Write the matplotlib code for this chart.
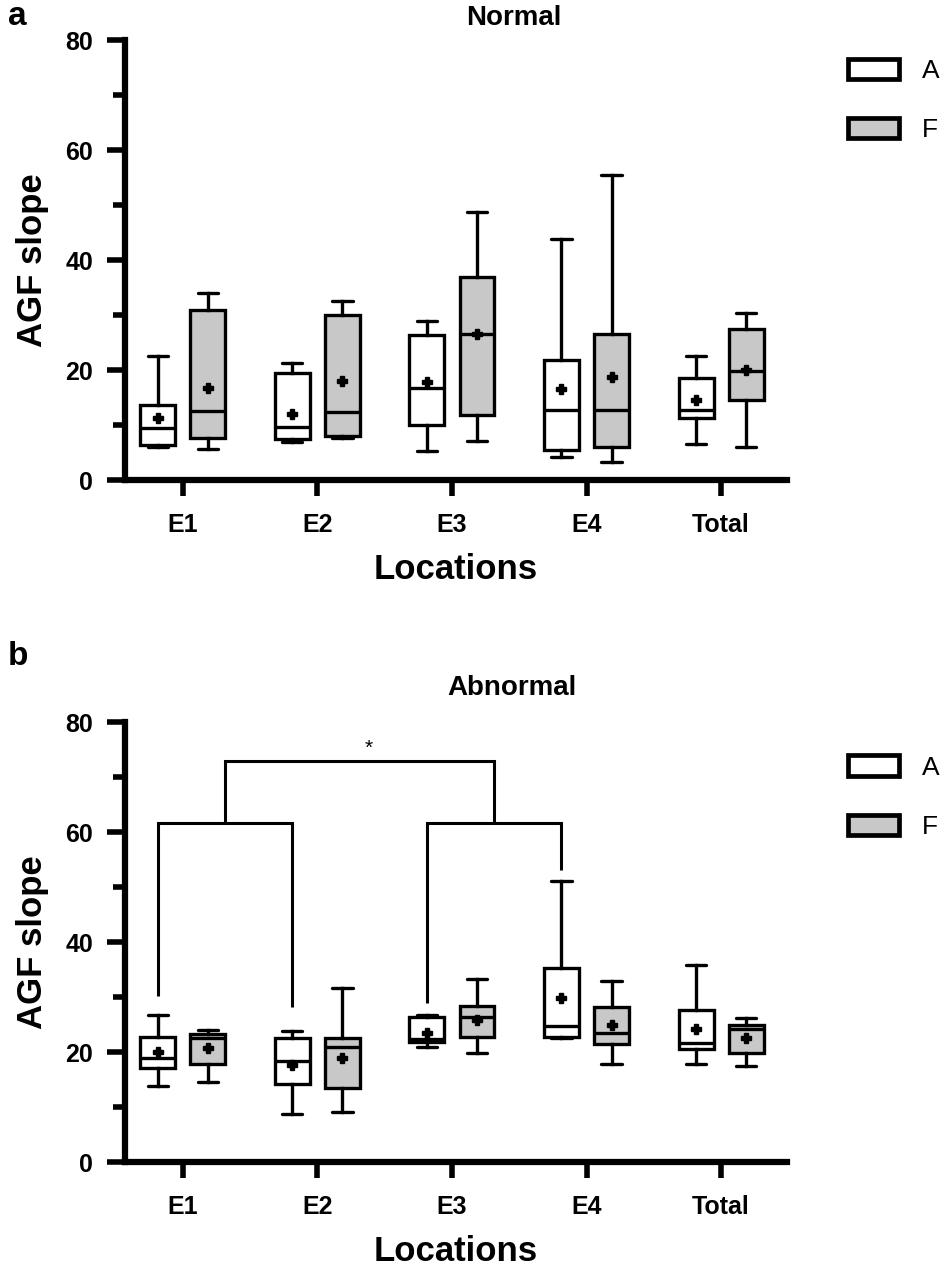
import matplotlib
matplotlib.use('Agg')
import matplotlib.pyplot as plt
from matplotlib.patches import Patch
from matplotlib.ticker import MultipleLocator
import numpy as np

plt.rcParams['font.family'] = ['Liberation Sans', 'DejaVu Sans']

# Data #########################################################################

cats = ['E1', 'E2', 'E3', 'E4', 'Total']

# panel a - Normal
a_A_whislo = [6.0, 6.9, 5.2, 4.2, 6.6]
a_A_q1 = [6.4, 7.4, 10.1, 5.4, 11.2]
a_A_med = [9.5, 9.7, 16.8, 12.7, 12.8]
a_A_q3 = [13.6, 19.4, 26.4, 21.8, 18.5]
a_A_whishi = [22.6, 21.3, 28.9, 43.8, 22.6]
a_A_mean = [11.2, 12.1, 17.9, 16.5, 14.5]

a_F_whislo = [5.6, 7.7, 7.1, 3.3, 6.1]
a_F_q1 = [7.7, 8.0, 11.8, 6.0, 14.5]
a_F_med = [12.5, 12.4, 26.6, 12.7, 19.8]
a_F_q3 = [31.0, 30.1, 36.9, 26.5, 27.5]
a_F_whishi = [34.1, 32.5, 48.8, 55.4, 30.4]
a_F_mean = [16.7, 18.0, 26.6, 18.8, 20.0]

# panel b - Abnormal
b_A_whislo = [13.8, 8.7, 21.0, 22.5, 17.8]
b_A_q1 = [17.1, 14.2, 21.8, 22.8, 20.5]
b_A_med = [18.9, 18.4, 22.3, 24.8, 21.6]
b_A_q3 = [22.8, 22.5, 26.4, 35.2, 27.6]
b_A_whishi = [26.8, 23.9, 26.7, 51.1, 35.8]
b_A_mean = [20.0, 17.7, 23.5, 29.8, 24.2]

b_F_whislo = [14.5, 9.1, 19.9, 17.8, 17.5]
b_F_q1 = [17.8, 13.5, 22.8, 21.4, 19.9]
b_F_med = [22.5, 21.0, 26.3, 23.5, 24.2]
b_F_q3 = [23.3, 22.5, 28.4, 28.2, 24.9]
b_F_whishi = [24.0, 31.6, 33.2, 32.9, 26.1]
b_F_mean = [20.7, 19.0, 25.9, 24.9, 22.5]

# significance bracket (panel b): E1/E2 vs E3/E4, A group
brk_low = 61.6
brk_top = 72.9
brk_ends = [30.1, 28.1, 29.0, 53.1]   # where each leg stops (E1, E2, E3, E4)

# Helpers ######################################################################

OFF = 0.186
BW = 0.26
LW = 2.4
GREY = '#c8c8c8'


def stats(whislo, q1, med, q3, whishi, mean):
    return [dict(whislo=w0, q1=a, med=m, q3=b, whishi=w1, mean=mu, fliers=[])
            for w0, a, m, b, w1, mu in zip(whislo, q1, med, q3, whishi, mean)]


def draw_group(ax, st, pos, face):
    ax.bxp(st, positions=pos, widths=BW, capwidths=0.15, patch_artist=True,
           showmeans=True, showfliers=False,
           boxprops=dict(facecolor=face, edgecolor='black', linewidth=LW),
           medianprops=dict(color='black', linewidth=LW),
           whiskerprops=dict(color='black', linewidth=LW),
           capprops=dict(color='black', linewidth=LW, solid_capstyle='round'),
           meanprops=dict(marker='P', markerfacecolor='black',
                          markeredgecolor='black', markersize=7))


def style_axes(ax, leg_y):
    x = np.arange(len(cats))
    ax.set_xlim(-0.43, 4.49)
    ax.set_ylim(0, 80)
    ax.set_xticks(x)
    ax.set_xticklabels(cats, fontsize=18, fontweight='bold')
    ax.yaxis.set_major_locator(MultipleLocator(20))
    ax.yaxis.set_minor_locator(MultipleLocator(10))
    for lab in ax.get_yticklabels():
        lab.set_fontsize(18)
        lab.set_fontweight('bold')
    ax.spines['top'].set_visible(False)
    ax.spines['right'].set_visible(False)
    ax.spines['left'].set_linewidth(4.5)
    ax.spines['bottom'].set_linewidth(4.5)
    ax.tick_params(axis='y', which='major', length=13, width=4, pad=10)
    ax.tick_params(axis='y', which='minor', length=8.5, width=4)
    ax.tick_params(axis='x', which='major', length=11.5, width=4, pad=12)
    ax.set_xlabel('Locations', fontsize=25, fontweight='bold', labelpad=12)
    ax.set_ylabel('AGF slope', fontsize=25, fontweight='bold', labelpad=12)
    handles = [Patch(facecolor='white', edgecolor='black', linewidth=3.4, label='A'),
               Patch(facecolor=GREY, edgecolor='black', linewidth=3.4, label='F')]
    ax.legend(handles=handles, loc='upper left', bbox_to_anchor=(1.057, leg_y),
              frameon=False, fontsize=19, handlelength=1.9, handleheight=0.8,
              handletextpad=0.9, labelspacing=1.34)


# Figure #######################################################################

fig = plt.figure(figsize=(9.45, 12.69), dpi=100)
ax_a = fig.add_axes([0.1323, 0.6217, 0.7005, 0.3467])
ax_b = fig.add_axes([0.1323, 0.0843, 0.7005, 0.3467])

x = np.arange(len(cats))

draw_group(ax_a, stats(a_A_whislo, a_A_q1, a_A_med, a_A_q3, a_A_whishi, a_A_mean),
           x - OFF, 'white')
draw_group(ax_a, stats(a_F_whislo, a_F_q1, a_F_med, a_F_q3, a_F_whishi, a_F_mean),
           x + OFF, GREY)
draw_group(ax_b, stats(b_A_whislo, b_A_q1, b_A_med, b_A_q3, b_A_whishi, b_A_mean),
           x - OFF, 'white')
draw_group(ax_b, stats(b_F_whislo, b_F_q1, b_F_med, b_F_q3, b_F_whishi, b_F_mean),
           x + OFF, GREY)

style_axes(ax_a, 1.012)
style_axes(ax_b, 0.978)

# significance bracket
legs = x[:4] - OFF
bk = dict(color='black', linewidth=2.2, solid_capstyle='butt', solid_joinstyle='miter')
ax_b.plot([legs[0], legs[0], legs[1], legs[1]],
          [brk_ends[0], brk_low, brk_low, brk_ends[1]], **bk)
ax_b.plot([legs[2], legs[2], legs[3], legs[3]],
          [brk_ends[2], brk_low, brk_low, brk_ends[3]], **bk)
mid1 = (legs[0] + legs[1]) / 2
mid2 = (legs[2] + legs[3]) / 2
ax_b.text((mid1 + mid2) / 2 + 0.07, brk_top + 0.6, '*', ha='center', va='bottom',
          fontsize=15)
ax_b.plot([mid1, mid1, mid2, mid2], [brk_low, brk_top, brk_top, brk_low], **bk)

# titles and panel letters
fig.text(0.544, 0.986, 'Normal', ha='center', va='center',
         fontsize=20, fontweight='bold')
fig.text(0.542, 0.458, 'Abnormal', ha='center', va='center',
         fontsize=20, fontweight='bold')
fig.text(0.008, 0.987, 'a', ha='left', va='center', fontsize=24, fontweight='bold')
fig.text(0.008, 0.483, 'b', ha='left', va='center', fontsize=24, fontweight='bold')

fig.savefig('out.png', dpi=100)
